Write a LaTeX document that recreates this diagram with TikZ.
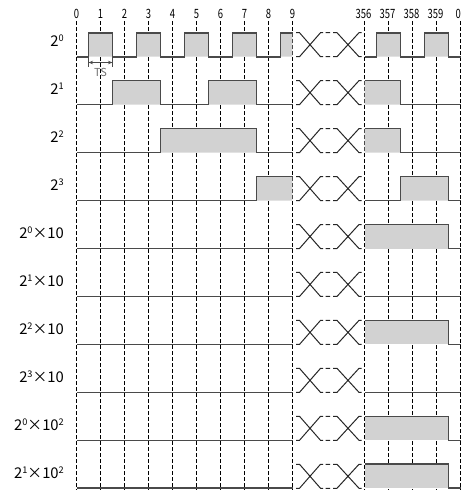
\documentclass[tikz,border=0pt]{standalone}
\usepackage{fontspec}
\setmainfont{Noto Sans CJK SC}
\newfontfamily\lblfont{Noto Sans CJK SC}
\newfontfamily\tickfont[FakeStretch=0.74]{Noto Sans CJK SC}
\usetikzlibrary{arrows.meta}
\definecolor{sig}{HTML}{4A4A4A}
\definecolor{fillg}{HTML}{D2D2D2}
\definecolor{tsgray}{HTML}{707070}
\tikzset{
  gridline/.style={black, line width=0.7pt, dash pattern=on 3.5pt off 2.5pt},
  sigline/.style={sig, line width=1.6pt, line join=miter},
  brk/.style={black!85, line width=1pt},
  lbl/.style={anchor=base east, font=\lblfont\fontsize{14.8}{16}\selectfont, inner sep=0pt},
  ticklbl/.style={font=\tickfont\fontsize{12.8}{13}\selectfont, inner sep=0pt},
}
\newcommand\supnum[1]{\raisebox{5pt}{\fontsize{9.2}{9.2}\selectfont #1}}
\begin{document}
\begin{tikzpicture}[x=1pt,y=-1pt]
\useasboundingbox (0,0) rectangle (461,490);
\def\L{56.7}
\def\H{32.7}
% grid lines
\foreach \t in {0,...,9}{
  \pgfmathsetmacro\xx{76.5+24*\t}
  \draw[gridline] (\xx,21) -- (\xx,490);
  \node[ticklbl] (tk\t) at (\xx,14) {\t};
}
\foreach \j/\lab in {0/356,1/357,2/358,3/359}{
  \pgfmathsetmacro\xx{364.5+24*\j}
  \draw[gridline] (\xx,21) -- (\xx,490);
  \node[ticklbl] (tr\j) at (\xx-1,14) {\lab};
}
\draw[gridline] (460.5,21) -- (460.5,490);
\node[ticklbl, anchor=east] (tr4) at (461,14) {0};
% row 0
\begin{scope}
  \fill[fillg] (88.5,\L) rectangle (112.5,\H) (136.5,\L) rectangle (160.5,\H)
    (184.5,\L) rectangle (208.5,\H) (232.5,\L) rectangle (256.5,\H)
    (280.5,\L) rectangle (292.3,\H) (376.5,\L) rectangle (400.5,\H)
    (424.5,\L) rectangle (448.5,\H);
  \draw[sigline] (76.5,\L)--(88.5,\L)--(88.5,\H)--(112.5,\H)--(112.5,\L)--(136.5,\L)--(136.5,\H)--(160.5,\H)--(160.5,\L)--(184.5,\L)--(184.5,\H)--(208.5,\H)--(208.5,\L)--(232.5,\L)--(232.5,\H)--(256.5,\H)--(256.5,\L)--(280.5,\L)--(280.5,\H)--(292.5,\H);
  \draw[sigline] (364.5,\L)--(376.5,\L)--(376.5,\H)--(400.5,\H)--(400.5,\L)--(424.5,\L)--(424.5,\H)--(448.5,\H)--(448.5,\L)--(460.5,\L);
\end{scope}
% row 1
\begin{scope}[yshift=-47.95pt]
  \fill[fillg] (112.5,\L) rectangle (160.5,\H) (208.5,\L) rectangle (256.5,\H)
    (364.5,\L) rectangle (400.5,\H);
  \draw[sigline] (76.5,\L)--(112.5,\L)--(112.5,\H)--(160.5,\H)--(160.5,\L)--(208.5,\L)--(208.5,\H)--(256.5,\H)--(256.5,\L)--(292.5,\L);
  \draw[sigline] (364.5,\H)--(400.5,\H)--(400.5,\L)--(460.5,\L);
\end{scope}
% row 2
\begin{scope}[yshift=-95.9pt]
  \fill[fillg] (160.5,\L) rectangle (256.5,\H) (364.5,\L) rectangle (400.5,\H);
  \draw[sigline] (76.5,\L)--(160.5,\L)--(160.5,\H)--(256.5,\H)--(256.5,\L)--(292.5,\L);
  \draw[sigline] (364.5,\H)--(400.5,\H)--(400.5,\L)--(460.5,\L);
\end{scope}
% row 3
\begin{scope}[yshift=-143.85pt]
  \fill[fillg] (256.5,\L) rectangle (292.3,\H) (400.5,\L) rectangle (448.5,\H);
  \draw[sigline] (76.5,\L)--(256.5,\L)--(256.5,\H)--(292.5,\H);
  \draw[sigline] (364.5,\L)--(400.5,\L)--(400.5,\H)--(448.5,\H)--(448.5,\L)--(460.5,\L);
\end{scope}
% rows 4..9
\foreach \k/\on in {4/1,5/0,6/1,7/0,8/1,9/1}{
  \begin{scope}[yshift=-47.95pt*\k]
    \draw[sigline] (76.5,\L)--(292.5,\L);
    \ifnum\on=1
      \fill[fillg] (364.5,\L) rectangle (448.5,\H);
      \draw[sigline] (364.5,\H)--(448.5,\H)--(448.5,\L)--(460.5,\L);
    \else
      \draw[sigline] (364.5,\L)--(460.5,\L);
    \fi
  \end{scope}
}
% breaks
\foreach \k in {0,...,9}{
  \begin{scope}[yshift=-47.95pt*\k]
    \draw[brk] (296,\H)--(299.5,\H)--(320.5,\L)--(323,\L)
               (296,\L)--(299.5,\L)--(320.5,\H)--(323,\H)
               (325.5,\H)--(330,\H) (325.5,\L)--(330,\L)
               (333,\H)--(337,\H)--(359,\L)--(361.5,\L)
               (333,\L)--(337,\L)--(359,\H)--(361.5,\H);
  \end{scope}
}
% labels
\node[lbl] (r0) at (64,46.7) {2\supnum{0}};
\node[lbl] (r1) at (64,94.65) {2\supnum{1}};
\node[lbl] (r2) at (64,142.6) {2\supnum{2}};
\node[lbl] (r3) at (64,190.55) {2\supnum{3}};
\node[lbl] (r4) at (64,238.5) {2\supnum{0}×10};
\node[lbl] (r5) at (64,286.45) {2\supnum{1}×10};
\node[lbl] (r6) at (64,334.4) {2\supnum{2}×10};
\node[lbl] (r7) at (64,382.35) {2\supnum{3}×10};
\node[lbl] (r8) at (64,430.3) {2\supnum{0}×10\supnum{2}};
\node[lbl] (r9) at (64,478.25) {2\supnum{1}×10\supnum{2}};
% TS annotation
\coordinate (tsA) at (88.5,57.5);
\coordinate (tsB) at (88.5,67);
\coordinate (tsC) at (112.5,57.5);
\coordinate (tsD) at (112.5,67);
\coordinate (tsL) at (88.5,62.5);
\coordinate (tsR) at (112.5,62.5);
\draw[sig, line width=0.8pt] (tsA) -- (tsB) (tsC) -- (tsD);
\draw[sig, line width=0.8pt, {Stealth[length=4.5pt,width=3.5pt]}-{Stealth[length=4.5pt,width=3.5pt]}] (tsL) -- (tsR);
\node[text=tsgray, font=\fontsize{11}{12}\selectfont, inner sep=0pt] (ts) at (100.5,72.5) {TS};
\end{tikzpicture}
\end{document}
